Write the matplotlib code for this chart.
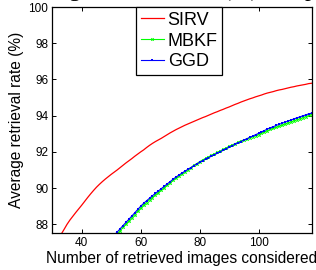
import matplotlib
matplotlib.use("Agg")
import matplotlib.pyplot as plt

plt.rcParams['font.family'] = ['Liberation Sans', 'DejaVu Sans']

# Data
x_sirv = list(range(33, 119))
sirv = [87.45, 87.72, 88.00, 88.24, 88.45, 88.66, 88.86, 89.06, 89.27, 89.48,
        89.68, 89.87, 90.05, 90.21, 90.36, 90.50, 90.63, 90.76, 90.88, 91.00,
        91.13, 91.26, 91.39, 91.51, 91.63, 91.76, 91.88, 92.00, 92.11, 92.24,
        92.36, 92.47, 92.57, 92.66, 92.75, 92.85, 92.95, 93.05, 93.14, 93.23,
        93.31, 93.39, 93.47, 93.54, 93.61, 93.68, 93.75, 93.82, 93.89, 93.95,
        94.02, 94.09, 94.16, 94.22, 94.29, 94.35, 94.42, 94.48, 94.55, 94.62,
        94.68, 94.75, 94.81, 94.87, 94.93, 94.98, 95.04, 95.09, 95.14, 95.20,
        95.25, 95.29, 95.33, 95.38, 95.42, 95.45, 95.49, 95.53, 95.57, 95.60,
        95.64, 95.67, 95.70, 95.73, 95.77, 95.79]

x_ggd = list(range(51, 119))
mbkf = [87.30, 87.47, 87.64, 87.83, 88.01, 88.18, 88.37, 88.54, 88.73, 88.90,
        89.07, 89.20, 89.36, 89.48, 89.63, 89.75, 89.89, 90.02, 90.16, 90.28,
        90.43, 90.55, 90.68, 90.79, 90.91, 91.02, 91.13, 91.25, 91.35, 91.46,
        91.55, 91.64, 91.72, 91.81, 91.89, 91.97, 92.05, 92.14, 92.22, 92.30,
        92.38, 92.45, 92.53, 92.60, 92.66, 92.72, 92.78, 92.84, 92.90, 92.96,
        93.03, 93.10, 93.17, 93.24, 93.30, 93.36, 93.42, 93.48, 93.54, 93.60,
        93.66, 93.72, 93.78, 93.83, 93.89, 93.95, 94.01, 94.05]
ggd = [87.40, 87.57, 87.75, 87.93, 88.11, 88.28, 88.46, 88.64, 88.82, 89.00,
       89.16, 89.30, 89.44, 89.58, 89.71, 89.84, 89.97, 90.10, 90.23, 90.36,
       90.49, 90.61, 90.72, 90.83, 90.93, 91.03, 91.13, 91.23, 91.33, 91.42,
       91.51, 91.59, 91.68, 91.76, 91.84, 91.92, 92.00, 92.09, 92.17, 92.25,
       92.33, 92.41, 92.49, 92.57, 92.64, 92.72, 92.80, 92.87, 92.95, 93.02,
       93.10, 93.18, 93.26, 93.33, 93.39, 93.46, 93.52, 93.58, 93.64, 93.70,
       93.76, 93.82, 93.88, 93.93, 93.99, 94.04, 94.10, 94.14]

x_ticks = [40, 60, 80, 100]
y_ticks = [88, 90, 92, 94, 96, 98, 100]

fig = plt.figure(figsize=(3.16, 2.70), dpi=100)
ax = fig.add_axes([0.1655, 0.137, 0.8205, 0.837])

ax.plot(x_sirv, sirv, color='#ff0000', lw=0.9, label='SIRV')
ax.plot(x_ggd, mbkf, color='#00ff00', lw=0.8, marker='x', ms=1.8, mew=0.7, label='MBKF')
ax.plot(x_ggd, ggd, color='#0000ff', lw=0.8, marker='s', ms=1.6, mew=0, label='GGD')

ax.set_xlim(30, 118)
ax.set_ylim(87.52, 100)
ax.set_xticks(x_ticks)
ax.set_yticks(y_ticks)
ax.tick_params(direction='in', top=True, right=True, length=3, width=0.7,
               labelsize=8.5, pad=3, colors='black')
for s in ax.spines.values():
    s.set_linewidth(0.9)
ax.set_xlabel('Number of retrieved images considered', fontsize=11.2, labelpad=1)
ax.set_ylabel('Average retrieval rate (%)', fontsize=11.2, labelpad=3)

leg = ax.legend(loc='upper left', bbox_to_anchor=(0.323, 1.0), borderaxespad=0,
                fontsize=13, frameon=True, fancybox=False, handlelength=1.3,
                handletextpad=0.2, labelspacing=0.22, borderpad=0.25,
                edgecolor='black', framealpha=1, markerscale=1.0)
leg.get_frame().set_linewidth(0.9)

fig.text(0.04, 1.016, 'Average retrieval rate (%) comparison', fontsize=17,
         family=['Liberation Serif', 'DejaVu Serif'], va='baseline', ha='left')

fig.savefig('out.png', dpi=100)
